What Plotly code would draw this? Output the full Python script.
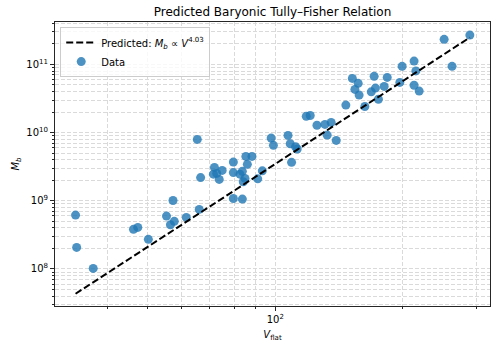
import numpy as np
import plotly.graph_objects as go

# flat rotation velocity (km/s) and baryonic mass (Msun)
v_flat = [
    33.7, 33.9, 37.1, 46.2, 47.3, 50.1, 55.3, 56.5, 57.3, 57.7,
    61.6, 66.1, 65.4, 66.6, 71.4, 71.8, 72.7, 73.7, 74.9, 79.6,
    79.6, 79.6, 82.5, 83.6, 83.6, 84.8, 84.0, 85.2, 85.9, 88.1,
    90.9, 93.2, 97.8, 99.0, 107.2, 108.5, 109.3, 111.7, 112.7, 118.4,
    121.0, 125.5, 131.1, 132.7, 135.6, 139.4, 146.9, 152.2, 157.1, 154.3,
    157.9, 162.9, 168.7, 171.4, 172.6, 175.4, 181.0, 184.0, 197.1, 199.6,
    213.0, 215.1, 213.0, 219.0, 250.9, 262.0, 288.6,
]
m_baryon = [
    6.17e8, 2.07e8, 1.02e8, 3.81e8, 4.07e8, 2.72e8, 5.97e8, 4.45e8, 1.01e9, 4.99e8,
    5.71e8, 7.48e8, 7.95e9, 2.19e9, 2.46e9, 3.09e9, 2.52e9, 2.06e9, 2.79e9, 3.69e9,
    2.59e9, 1.08e9, 2.46e9, 2.70e9, 1.06e9, 2.13e9, 1.90e9, 4.48e9, 3.42e9, 4.48e9,
    2.10e9, 2.75e9, 8.30e9, 6.51e9, 9.10e9, 6.85e9, 3.66e9, 6.19e9, 5.75e9, 1.73e10,
    1.78e10, 1.28e10, 1.32e10, 9.19e9, 1.41e10, 7.69e9, 2.53e10, 6.23e10, 5.28e10, 4.30e10,
    3.55e10, 2.41e10, 3.96e10, 6.69e10, 4.49e10, 3.08e10, 4.76e10, 6.45e10, 5.45e10, 9.38e10,
    1.12e11, 8.03e10, 4.94e10, 4.06e10, 2.33e11, 9.38e10, 2.69e11,
]

slope = 4.03
log_norm = 1.48

x_major = [100]
x_major_text = ["10<sup>2</sup>"]
x_minor = [40, 50, 60, 70, 80, 90, 200, 300]
y_major = [1e8, 1e9, 1e10, 1e11]
y_major_text = ["10<sup>8</sup>", "10<sup>9</sup>", "10<sup>10</sup>", "10<sup>11</sup>"]
y_minor = [k * 10.0 ** e for e in range(7, 12) for k in range(2, 10)]

v_line = np.array([min(v_flat), max(v_flat)])
m_line = 10 ** log_norm * v_line ** slope

grid = "#dadada"
grid_dash = "4px,2px"
font = "DejaVu Sans"

fig = go.Figure()
fig.add_trace(go.Scatter(
    x=v_flat, y=m_baryon, mode="markers", name="Data", legendrank=2,
    marker=dict(color="#1f77b4", size=9, opacity=0.8, line=dict(width=0)),
))
fig.add_trace(go.Scatter(
    x=v_line, y=m_line, mode="lines", legendrank=1,
    name="Predicted: <i>M</i><sub><i>b</i></sub> ∝ <i>V</i><sup>4.03</sup>",
    line=dict(color="black", width=2, dash="7px,3px"),
))

axis_common = dict(
    type="log", showline=True, linecolor="#262626", linewidth=1, mirror=True,
    ticks="outside", ticklen=4, tickcolor="#262626", tickfont=dict(size=10, color="black"),
    showgrid=True, gridcolor=grid, griddash=grid_dash, gridwidth=0.8, zeroline=False,
    automargin=False,
)
minor_common = dict(ticks="outside", ticklen=2, tickcolor="#262626",
                    showgrid=True, gridcolor=grid, griddash=grid_dash, gridwidth=0.8)

fig.update_xaxes(
    **axis_common, range=[1.479, 2.508],
    tickvals=x_major, ticktext=x_major_text,
    minor=dict(tickvals=x_minor, **minor_common),
    title=dict(text="<i>V</i><sub>flat</sub>", font=dict(size=10, color="black"), standoff=6),
)
fig.update_yaxes(
    **axis_common, range=[7.457, 11.622],
    tickvals=y_major, ticktext=y_major_text,
    minor=dict(tickvals=y_minor, **minor_common),
    title=dict(text="<i>M</i><sub><i>b</i></sub>", font=dict(size=10, color="black"), standoff=4),
)

fig.update_layout(
    width=496, height=352,
    margin=dict(l=55, r=6, t=22, b=46, autoexpand=False),
    paper_bgcolor="white", plot_bgcolor="white",
    font=dict(family=font, size=10, color="black"),
    title=dict(text="Predicted Baryonic Tully–Fisher Relation", x=0.5, xref="paper",
               xanchor="center", y=1 - 12 / 352, yref="container", yanchor="middle",
               font=dict(size=12, color="black")),
    legend=dict(x=0.012, y=0.982, xanchor="left", yanchor="top", itemwidth=30,
                bgcolor="rgba(255,255,255,0.8)", bordercolor="#cccccc", borderwidth=1,
                font=dict(size=10, color="black")),
    showlegend=True,
)

# the page body has a default 8px margin, drop it so the figure fills the window
fig.write_html("out.html", config={"displayModeBar": False},
               post_script="document.body.style.margin='0';")
